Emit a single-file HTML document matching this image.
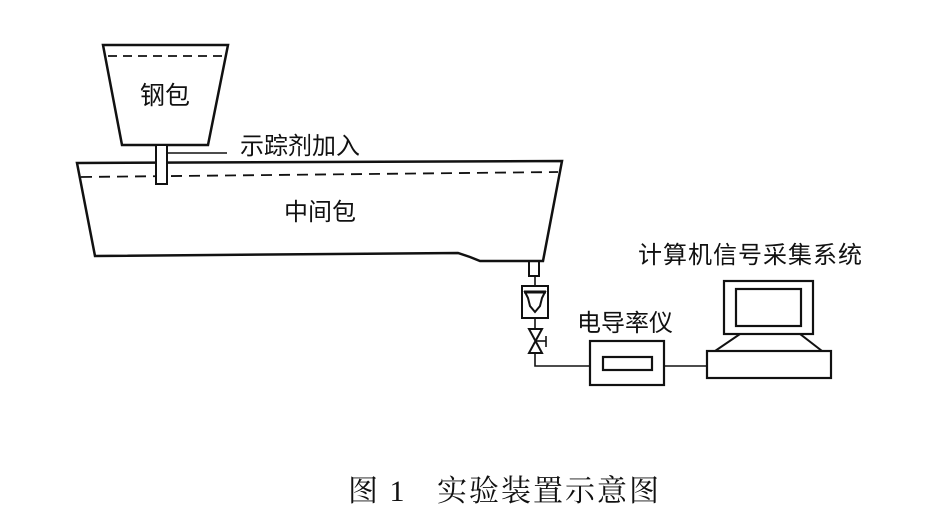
<!DOCTYPE html>
<html><head><meta charset="utf-8"><style>
html,body{margin:0;padding:0;background:#fff;}
svg{display:block}
text{font-family:"Liberation Sans","Noto Sans CJK SC",sans-serif;fill:#111}
</style></head><body>
<svg width="945" height="519" viewBox="0 0 945 519" xmlns="http://www.w3.org/2000/svg">
<g fill="none" stroke="#111" stroke-width="2.5" stroke-linejoin="miter">
<polygon points="103,45 228,45 208,145 122,145" fill="#fff"/>
<line x1="108" y1="56" x2="224" y2="56" stroke-dasharray="9,6" stroke-width="1.8"/>
<polygon points="77,163 562,161 543,261 480,261 470,257 458,253 95,256" fill="#fff"/>
<line x1="81" y1="177" x2="558" y2="172" stroke-dasharray="11,7" stroke-width="1.8"/>
<rect x="156" y="145" width="11" height="39" fill="#fff" stroke-width="2"/>
<line x1="167" y1="153" x2="227" y2="153" stroke-width="1.6"/>
<rect x="529" y="261" width="10" height="15" stroke-width="2"/>
<line x1="535" y1="276" x2="535" y2="286" stroke-width="1.6"/>
<rect x="522" y="286" width="26" height="32" stroke-width="2"/>
<path d="M525,292 L545,292 L542,298 L540,306 L535,312 L530,306 L528,298 Z" stroke-width="2"/>
<line x1="524" y1="292" x2="546" y2="292" stroke-width="3"/>
<line x1="535" y1="318" x2="535" y2="329" stroke-width="1.6"/>
<path d="M529,329 L542,329 L529,353 L542,353 Z" stroke-width="2"/>
<line x1="536" y1="341" x2="546" y2="341" stroke-width="1.6"/>
<line x1="546" y1="336" x2="546" y2="347" stroke-width="1.6"/>
<polyline points="535,353 535,366 590,366" stroke-width="1.6"/>
<rect x="590" y="341" width="74" height="44" stroke-width="2.2"/>
<rect x="603" y="357" width="49" height="13" stroke-width="2.2"/>
<line x1="664" y1="366" x2="707" y2="366" stroke-width="1.6"/>
<rect x="707" y="351" width="124" height="27" stroke-width="2.2"/>
<polygon points="740,334 800,334 822,351 715,351" stroke-width="2"/>
<rect x="724" y="281" width="89" height="53" stroke-width="2.2" fill="#fff"/>
<rect x="736" y="289" width="65" height="37" stroke-width="2.2"/>
</g>
<g font-size="24">
<text x="140" y="104" font-size="25">钢包</text>
<text x="240" y="154">示踪剂加入</text>
<text x="284" y="220">中间包</text>
<text x="577" y="331">电导率仪</text>
<text x="638" y="263" letter-spacing="1">计算机信号采集系统</text>
</g>
<text x="348" y="501" font-size="30" style="font-family:'Liberation Serif','Noto Serif CJK SC',serif">图 <tspan dx="4">1</tspan></text>
<text x="437" y="501" font-size="30" letter-spacing="2" style="font-family:'Liberation Serif','Noto Serif CJK SC',serif">实验装置示意图</text>
</svg>
</body></html>
